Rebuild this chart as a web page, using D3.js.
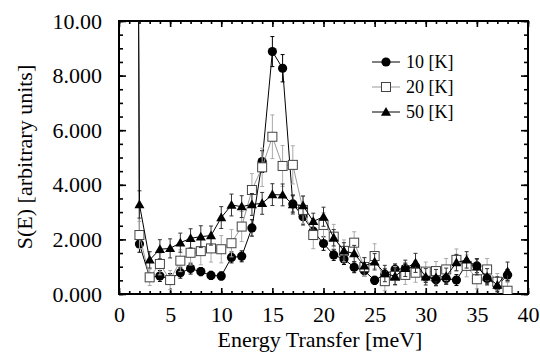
<!DOCTYPE html>
<html lang="en">
<head>
<meta charset="UTF-8">
<title>S(E)</title>
<script src="https://cdn.jsdelivr.net/npm/d3@7"></script>
<style>
  body { margin: 0; background: #fff; }
  svg text { font-family: "Liberation Serif", "Times New Roman", Times, "DejaVu Serif", serif; fill: #000; }
</style>
</head>
<body>
<div id="chart"></div>
<script>
// energy transfer in meV (first point is the off-scale elastic line)
const energy = [1, 2, 3, 4, 5, 6, 7, 8, 9, 10, 11, 12, 13, 14, 15, 16, 17, 18, 19, 20,
  21, 22, 23, 24, 25, 26, 27, 28, 29, 30, 31, 32, 33, 34, 35, 36, 37, 38];

const s10 = [95, 1.83, 0.61, 0.66, 0.55, 0.78, 0.93, 0.82, 0.68, 0.66, 1.34, 1.38, 2.42, 4.85, 8.88, 8.27, 3.30, 2.83, 2.30, 1.85,
  1.43, 1.28, 0.98, 0.85, 0.50, 0.72, 0.90, 0.93, 1.00, 0.63, 0.52, 0.57, 0.51, 1.10, 1.03, 0.57, 0.30, 0.70];
const e10 = [0, 0.30, 0.15, 0.20, 0.20, 0.20, 0.20, 0.15, 0.15, 0.15, 0.20, 0.20, 0.30, 0.40, 0.55, 0.50, 0.30, 0.30, 0.30, 0.25,
  0.20, 0.20, 0.20, 0.20, 0.15, 0.20, 0.20, 0.20, 0.20, 0.20, 0.20, 0.20, 0.20, 0.20, 0.25, 0.20, 0.20, 0.20];

const s20 = [90, 2.16, 0.61, 1.10, 0.51, 1.22, 1.51, 1.57, 1.67, 1.64, 1.86, 2.47, 3.81, 4.64, 5.76, 4.69, 4.73, 3.08, 2.16, 2.53,
  2.10, 1.58, 1.88, 0.99, 1.39, 0.47, 0.66, 0.70, 0.78, 0.82, 0.84, 0.90, 1.25, 1.03, 0.54, 0.90, 0.45, 0.12];
const e20 = [0, 0.50, 0.30, 0.40, 0.35, 0.40, 0.45, 0.50, 0.50, 0.50, 0.50, 0.55, 0.60, 0.70, 0.80, 0.75, 0.70, 0.50, 0.50, 0.45,
  0.45, 0.40, 0.40, 0.35, 0.45, 0.35, 0.35, 0.35, 0.35, 0.35, 0.35, 0.40, 0.40, 0.40, 0.35, 0.40, 0.30, 0.30];

const s50 = [85, 3.28, 1.25, 1.64, 1.67, 1.88, 2.04, 2.10, 2.14, 2.80, 3.26, 3.20, 3.28, 3.32, 3.64, 3.63, 3.28, 3.24, 2.66, 2.83,
  2.06, 1.58, 1.48, 1.03, 1.18, 0.75, 0.65, 0.94, 1.14, 0.63, 0.60, 0.65, 1.15, 1.25, 1.00, 0.63, 0.33, 0.82];
const e50 = [0, 0.50, 0.30, 0.35, 0.35, 0.35, 0.35, 0.40, 0.35, 0.40, 0.40, 0.40, 0.40, 0.40, 0.40, 0.40, 0.35, 0.35, 0.30, 0.35,
  0.30, 0.30, 0.30, 0.30, 0.30, 0.30, 0.30, 0.30, 0.35, 0.30, 0.30, 0.30, 0.30, 0.30, 0.30, 0.30, 0.30, 0.35];

const seriesNames = ["10 [K]", "20 [K]", "50 [K]"];
const xTicks = [0, 5, 10, 15, 20, 25, 30, 35, 40];
const yTicks = [0, 2, 4, 6, 8, 10];
const yTickLabels = ["0.000", "2.000", "4.000", "6.000", "8.000", "10.00"];

const width = 540, height = 353;
const margin = {top: 21, right: 12, bottom: 59, left: 119};
const serif = "Liberation Serif, Times New Roman, serif";

const x = d3.scaleLinear().domain([0, 40]).range([margin.left, width - margin.right]);
const y = d3.scaleLinear().domain([0, 10]).range([height - margin.bottom, margin.top]);

const svg = d3.create("svg")
    .attr("width", width)
    .attr("height", height)
    .attr("viewBox", [0, 0, width, height]);

svg.append("defs").append("clipPath").attr("id", "clip")
  .append("rect")
    .attr("x", margin.left).attr("y", margin.top)
    .attr("width", x(40) - x(0)).attr("height", y(0) - y(10));

// minor ticks
const minor = svg.append("g");
minor.append("g").attr("transform", `translate(0,${y(0)})`)
    .call(d3.axisBottom(x).tickValues(d3.range(0, 41, 1)).tickSize(-3).tickFormat(""));
minor.append("g").attr("transform", `translate(0,${y(10)})`)
    .call(d3.axisTop(x).tickValues(d3.range(0, 41, 1)).tickSize(-3).tickFormat(""));
minor.append("g").attr("transform", `translate(${x(0)},0)`)
    .call(d3.axisLeft(y).tickValues(d3.range(0, 10.01, 0.5)).tickSize(-4).tickFormat(""));
minor.append("g").attr("transform", `translate(${x(40)},0)`)
    .call(d3.axisRight(y).tickValues(d3.range(0, 10.01, 0.5)).tickSize(-4).tickFormat(""));

// major ticks with labels
svg.append("g").attr("transform", `translate(0,${y(0)})`)
    .call(d3.axisBottom(x).tickValues(xTicks).tickSize(-6).tickPadding(12).tickFormat(d3.format("d")));
svg.append("g").attr("transform", `translate(${x(0)},0)`)
    .call(d3.axisLeft(y).tickValues(yTicks).tickSize(-7).tickPadding(17)
      .tickFormat((d, i) => yTickLabels[i]));
svg.append("g").attr("transform", `translate(0,${y(10)})`)
    .call(d3.axisTop(x).tickValues(xTicks).tickSize(-6).tickFormat(""));
svg.append("g").attr("transform", `translate(${x(40)},0)`)
    .call(d3.axisRight(y).tickValues(yTicks).tickSize(-7).tickFormat(""));

svg.selectAll(".domain").remove();
svg.selectAll("g").attr("font-family", serif);
svg.selectAll(".tick line").attr("stroke", "#000").attr("stroke-width", 1.6);
svg.selectAll(".tick text").attr("font-size", 22);

svg.append("rect")
    .attr("x", x(0)).attr("y", y(10))
    .attr("width", x(40) - x(0)).attr("height", y(0) - y(10))
    .attr("fill", "none").attr("stroke", "#000").attr("stroke-width", 2);

// axis titles
svg.append("text")
    .attr("x", 320).attr("y", 347)
    .attr("text-anchor", "middle").attr("font-size", 22).attr("font-family", serif)
    .text("Energy Transfer [meV]");
svg.append("text")
    .attr("transform", "translate(32,157) rotate(-90)")
    .attr("text-anchor", "middle").attr("font-size", 22).attr("font-family", serif)
    .text("S(E) [arbitrary units]");

const series = [
  {name: seriesNames[0], v: s10, e: e10, line: "#000", bar: "#000", mark: "circle"},
  {name: seriesNames[1], v: s20, e: e20, line: "#999", bar: "#aaa", mark: "square"},
  {name: seriesNames[2], v: s50, e: e50, line: "#000", bar: "#333", mark: "triangle"}
];

function drawMark(g, type, cx, cy) {
  if (type === "circle") {
    g.append("circle").attr("cx", cx).attr("cy", cy).attr("r", 4.6).attr("fill", "#000");
  } else if (type === "square") {
    g.append("rect").attr("x", cx - 4.5).attr("y", cy - 4.5).attr("width", 9).attr("height", 9)
      .attr("fill", "#fff").attr("stroke", "#444").attr("stroke-width", 1);
  } else {
    g.append("path").attr("d", d3.symbol(d3.symbolTriangle, 44)())
      .attr("transform", `translate(${cx},${cy + 0.8})`).attr("fill", "#000");
  }
}

const plot = svg.append("g").attr("clip-path", "url(#clip)");
const line = d3.line().x(d => x(d[0])).y(d => y(d[1]));

series.forEach(s => {
  const pts = energy.map((E, i) => [E, s.v[i], s.e[i]]);
  const g = plot.append("g");
  // error bars
  pts.forEach(([E, v, err]) => {
    if (!err) return;
    const cx = x(E);
    g.append("path")
      .attr("d", `M${cx},${y(v - err)}V${y(v + err)}M${cx - 2},${y(v - err)}H${cx + 2}M${cx - 2},${y(v + err)}H${cx + 2}`)
      .attr("stroke", s.bar).attr("stroke-width", 1).attr("fill", "none");
  });
  g.append("path").datum(pts).attr("d", line)
    .attr("fill", "none").attr("stroke", s.line).attr("stroke-width", 1);
  pts.forEach(([E, v]) => drawMark(g, s.mark, x(E), y(v)));
});

// legend
const legend = svg.append("g");
series.forEach((s, i) => {
  const ly = 62 + i * 25;
  legend.append("line").attr("x1", 372).attr("x2", 400).attr("y1", ly).attr("y2", ly)
    .attr("stroke", s.line).attr("stroke-width", 1);
  drawMark(legend, s.mark, 386, ly);
  legend.append("text").attr("x", 406).attr("y", ly + 6)
    .attr("font-size", 18).attr("font-family", serif).text(s.name);
});

document.getElementById("chart").appendChild(svg.node());
</script>
</body>
</html>
